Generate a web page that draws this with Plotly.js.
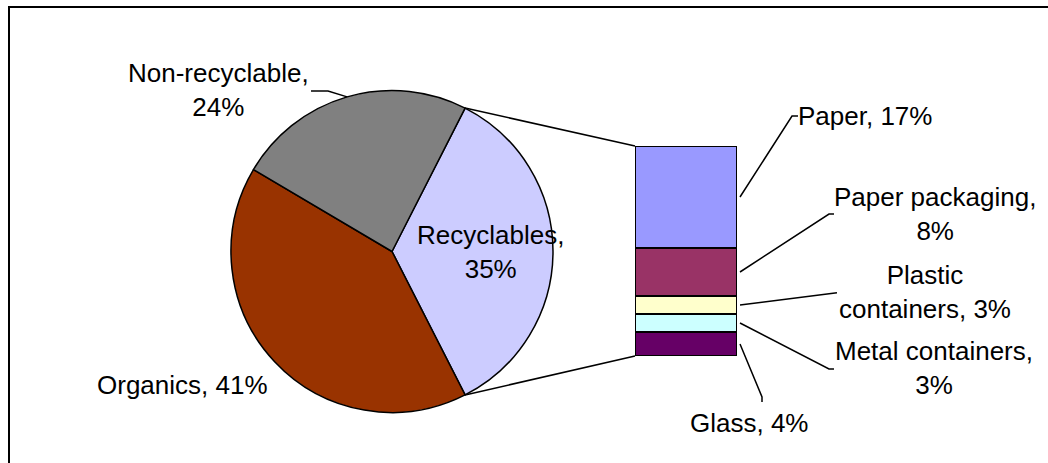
<!DOCTYPE html>
<html>
<head>
<meta charset="utf-8">
<script src="https://cdn.plot.ly/plotly-3.0.1.min.js"></script>
<style>
  html, body { margin: 0; padding: 0; background: #ffffff; }
  #chart { width: 1048px; height: 463px; }
</style>
</head>
<body>
<div id="chart"></div>
<script>
// Waste composition: main pie
const pieLabels = ['Recyclables', 'Organics', 'Non-recyclable'];
const pieValues = [35, 41, 24];
const pieColors = ['#CCCCFF', '#993300', '#808080'];

// Breakdown of the recyclables slice, listed top to bottom in the bar
const barLabels = ['Paper', 'Paper packaging', 'Plastic containers', 'Metal containers', 'Glass'];
const barValues = [17, 8, 3, 3, 4];
const barColors = ['#9999FF', '#993366', '#FFFFCC', '#CCFFFF', '#660066'];

// ---- geometry (pixels) ----
const W = 1048, H = 463;
const px = x => x / W;
const py = y => 1 - y / H;

const pieCx = 392, pieCy = 251.5, pieR = 161;
const barX0 = 635, barX1 = 737, barTop = 146, barBottom = 356;

const FONT = { family: 'Liberation Sans, Arial, sans-serif', size: 26, color: '#000000' };
const LINE = { color: '#000000', width: 1.5 };

const pieTotal = pieValues.reduce((a, b) => a + b, 0);
const barTotal = barValues.reduce((a, b) => a + b, 0);

// recyclables slice is centred on 3 o'clock, pie runs clockwise from it
const halfDeg = pieValues[0] / pieTotal * 180;
const rotation = 90 - halfDeg;

function pieEdge(mathDeg) {
  const a = mathDeg * Math.PI / 180;
  return [pieCx + pieR * Math.cos(a), pieCy - pieR * Math.sin(a)];
}
function barY(v) {
  return barBottom - v / barTotal * (barBottom - barTop);
}
function pathOf(points) {
  return points.map((p, i) => (i ? 'L' : 'M') + px(p[0]).toFixed(5) + ',' + py(p[1]).toFixed(5)).join(' ');
}

const traces = [];

traces.push({
  type: 'pie',
  labels: pieLabels,
  values: pieValues,
  sort: false,
  direction: 'clockwise',
  rotation: rotation,
  textinfo: 'none',
  hoverinfo: 'label+percent',
  marker: { colors: pieColors, line: { color: '#000000', width: 1.5 } },
  domain: { x: [px(pieCx - pieR), px(pieCx + pieR)], y: [py(pieCy + pieR), py(pieCy - pieR)] },
  showlegend: false
});

// stacked bar: bottom segment first
for (let i = barLabels.length - 1; i >= 0; i--) {
  traces.push({
    type: 'bar',
    name: barLabels[i],
    x: [0],
    y: [barValues[i]],
    width: [1],
    marker: { color: barColors[i], line: { color: '#000000', width: 1.5 } },
    xaxis: 'x', yaxis: 'y',
    hoverinfo: 'name+y',
    showlegend: false
  });
}

const shapes = [];
const annotations = [];

// frame
shapes.push({ type: 'line', xref: 'paper', yref: 'paper', x0: px(8), y0: py(7), x1: px(1048), y1: py(7), line: { color: '#000000', width: 2 } });
shapes.push({ type: 'line', xref: 'paper', yref: 'paper', x0: px(9), y0: py(6), x1: px(9), y1: py(463), line: { color: '#000000', width: 2 } });

// connectors from the recyclables slice to the bar
const topPt = pieEdge(halfDeg);
const botPt = pieEdge(-halfDeg);
shapes.push({ type: 'path', xref: 'paper', yref: 'paper', path: pathOf([topPt, [barX0, barTop]]), line: LINE });
shapes.push({ type: 'path', xref: 'paper', yref: 'paper', path: pathOf([botPt, [barX0, barBottom]]), line: LINE });

// pie labels
const pieLabelPos = [
  { x: 490, y: 252, brk: true },          // Recyclables
  { x: 182, y: 384.5, brk: false },       // Organics
  { x: 218, y: 90, brk: true, leader: [[328, 91], [311, 91]] } // Non-recyclable
];
let startDeg = 90 - rotation;
pieLabels.forEach((lab, i) => {
  const sweep = pieValues[i] / pieTotal * 360;
  const midDeg = startDeg - sweep / 2;
  startDeg -= sweep;
  const pos = pieLabelPos[i];
  const txt = lab + ',' + (pos.brk ? '<br>' : ' ') + pieValues[i] + '%';
  annotations.push({ xref: 'paper', yref: 'paper', x: px(pos.x), y: py(pos.y), xanchor: 'center', yanchor: 'middle',
    text: txt, showarrow: false, font: FONT, align: 'center' });
  if (pos.leader) {
    shapes.push({ type: 'path', xref: 'paper', yref: 'paper', path: pathOf([pieEdge(midDeg)].concat(pos.leader)), line: LINE });
  }
});

// bar labels and leader lines
const barLabelPos = [
  { x: 865, y: 116.5, brk: 'none', leader: [[792, 116], [798, 116]] },
  { x: 935, y: 214, brk: 'value', leader: [[829, 214], [834, 214]] },
  { x: 925, y: 292, brk: 'word', leader: [[837, 292.7]] },
  { x: 934, y: 367.5, brk: 'value', leader: [[829, 369], [834, 369]] },
  { x: 749, y: 423, brk: 'none', leader: [[762, 397], [762, 402]] }
];
let cum = barTotal;
barLabels.forEach((lab, i) => {
  const mid = cum - barValues[i] / 2;
  cum -= barValues[i];
  const pos = barLabelPos[i];
  let txt;
  if (pos.brk === 'value') txt = lab + ',<br>' + barValues[i] + '%';
  else if (pos.brk === 'word') { const w = lab.split(' '); txt = w[0] + '<br>' + w.slice(1).join(' ') + ', ' + barValues[i] + '%'; }
  else txt = lab + ', ' + barValues[i] + '%';
  annotations.push({ xref: 'paper', yref: 'paper', x: px(pos.x), y: py(pos.y), xanchor: 'center', yanchor: 'middle',
    text: txt, showarrow: false, font: FONT, align: 'center' });
  const start = [barX1 + 3, barY(mid)];
  shapes.push({ type: 'path', xref: 'paper', yref: 'paper', path: pathOf([start].concat(pos.leader)), line: LINE });
});

const layout = {
  width: W, height: H,
  margin: { l: 0, r: 0, t: 0, b: 0, pad: 0 },
  paper_bgcolor: '#ffffff',
  plot_bgcolor: 'rgba(0,0,0,0)',
  barmode: 'stack',
  bargap: 0,
  showlegend: false,
  font: FONT,
  xaxis: { domain: [px(barX0), px(barX1)], range: [-0.5, 0.5], visible: false, fixedrange: true },
  yaxis: { domain: [py(barBottom), py(barTop)], range: [0, barTotal], visible: false, fixedrange: true },
  shapes: shapes,
  annotations: annotations
};

Plotly.newPlot('chart', traces, layout, { displayModeBar: false, staticPlot: true });
</script>
</body>
</html>
